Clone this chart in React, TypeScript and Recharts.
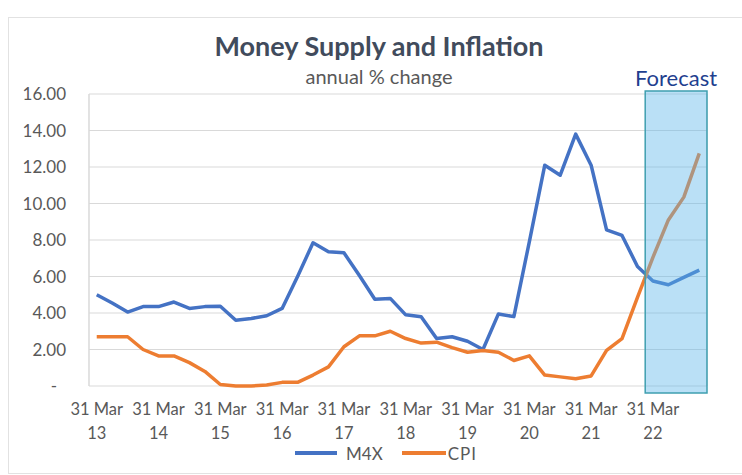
import { CartesianGrid, Line, LineChart, ReferenceArea, XAxis, YAxis } from "recharts";

// quarterly observations, Mar 2013 .. Dec 2022 (last four are forecasts)
const quarters = [
  "Mar 13", "Jun 13", "Sep 13", "Dec 13",
  "Mar 14", "Jun 14", "Sep 14", "Dec 14",
  "Mar 15", "Jun 15", "Sep 15", "Dec 15",
  "Mar 16", "Jun 16", "Sep 16", "Dec 16",
  "Mar 17", "Jun 17", "Sep 17", "Dec 17",
  "Mar 18", "Jun 18", "Sep 18", "Dec 18",
  "Mar 19", "Jun 19", "Sep 19", "Dec 19",
  "Mar 20", "Jun 20", "Sep 20", "Dec 20",
  "Mar 21", "Jun 21", "Sep 21", "Dec 21",
  "Mar 22", "Jun 22", "Sep 22", "Dec 22",
];

const m4x = [
  5.0, 4.55, 4.05, 4.35, 4.35, 4.6, 4.25, 4.35,
  4.37, 3.6, 3.7, 3.85, 4.25, 6.0, 7.85, 7.35,
  7.3, 6.05, 4.75, 4.8, 3.9, 3.8, 2.6, 2.7,
  2.45, 2.0, 3.95, 3.8, 7.9, 12.1, 11.55, 13.8,
  12.1, 8.55, 8.25, 6.55, 5.75, 5.55, 5.95, 6.35,
];

const cpi = [
  2.7, 2.7, 2.7, 2.0, 1.65, 1.65, 1.28, 0.8,
  0.08, 0.0, 0.0, 0.05, 0.2, 0.2, 0.6, 1.05,
  2.15, 2.75, 2.75, 3.0, 2.6, 2.35, 2.4, 2.1,
  1.85, 1.95, 1.85, 1.4, 1.65, 0.6, 0.5, 0.4,
  0.55, 1.95, 2.6, 4.85, 7.05, 9.1, 10.35, 12.75,
];

const yTicks = [0, 2, 4, 6, 8, 10, 12, 14, 16];
const yearLabels = ["13", "14", "15", "16", "17", "18", "19", "20", "21", "22"];
const forecastFrom = "Mar 22";

const data = quarters.map((q, i) => ({ q, pos: i + 0.5, m4x: m4x[i], cpi: cpi[i] }));
// grid lines sit on year boundaries, labels sit on the March quarter itself
const gridTicks = [...yearLabels.map((_, i) => i * 4), quarters.length];
const labelTicks = yearLabels.map((_, i) => i * 4 + 0.5);
const fStart = quarters.indexOf(forecastFrom);

const FONT = "Lato, 'Open Sans', sans-serif";
const GREY = "#595959";

function YTick({ x, y, payload }: any) {
  const zero = payload.value === 0;
  return (
    <text x={zero ? x - 9 : x} y={y} dy={6} textAnchor="end" fill={GREY} fontSize={17} fontFamily={FONT}>
      {zero ? "-" : payload.value.toFixed(2)}
    </text>
  );
}

function XTick({ x, y, payload }: any) {
  const yr = yearLabels[Math.floor(payload.value / 4)];
  return (
    <text x={x} y={y} textAnchor="middle" fill={GREY} fontSize={16.5} fontFamily={FONT}>
      <tspan x={x} dy={28.5}>31 Mar</tspan>
      <tspan x={x} dy={24.5}>{yr}</tspan>
    </text>
  );
}

export default function App() {
  return (
    <div style={{ position: "absolute", left: 0, top: 0, width: 742, height: 475, background: "#fff", fontFamily: FONT }}>
      <div style={{ position: "absolute", left: 8, top: 17, width: 740, height: 455, border: "1px solid #e2e2e2" }} />
      <div style={{ position: "absolute", left: 0, width: 758, top: 29, textAlign: "center", fontSize: 27, lineHeight: "34px", fontWeight: 700, color: "#414b5c" }}>
        Money Supply and Inflation
      </div>
      <div style={{ position: "absolute", left: 0, width: 758, top: 63, textAlign: "center", fontSize: 20, lineHeight: "26px", color: GREY }}>
        annual % change
      </div>
      <div style={{ position: "absolute", left: 0, top: 0 }}>
        <LineChart width={742} height={475} data={data} margin={{ top: 94, right: 35, bottom: 29, left: 29 }}>
          <CartesianGrid stroke="#d9d9d9" strokeWidth={1} />
          <XAxis
            type="number"
            dataKey="pos"
            domain={[0, quarters.length]}
            ticks={gridTicks}
            interval={0}
            tick={false}
            tickLine={false}
            height={0}
            axisLine={{ stroke: "#d9d9d9" }}
          />
          <XAxis
            xAxisId="labels"
            type="number"
            dataKey="pos"
            domain={[0, quarters.length]}
            ticks={labelTicks}
            interval={0}
            tick={<XTick />}
            tickLine={false}
            tickSize={0}
            tickMargin={0}
            height={60}
            axisLine={false}
          />
          <YAxis
            domain={[0, 16]}
            ticks={yTicks}
            interval={0}
            tick={<YTick />}
            tickLine={false}
            tickSize={0}
            tickMargin={23}
            width={60}
            axisLine={{ stroke: "#d9d9d9" }}
          />
          <Line dataKey="m4x" name="M4X" stroke="#4472c4" strokeWidth={3.5} dot={false} isAnimationActive={false} strokeLinejoin="round" />
          <Line dataKey="cpi" name="CPI" stroke="#ed7d31" strokeWidth={3.5} dot={false} isAnimationActive={false} strokeLinejoin="round" />
          <ReferenceArea
            x1={fStart}
            x2={quarters.length}
            y1={-0.38}
            y2={16.16}
            ifOverflow="visible"
            zIndex={1000}
            fill="#5ab4ea"
            fillOpacity={0.42}
            stroke="#3f9fb0"
            strokeWidth={1.5}
            label={{ value: "Forecast", position: "top", offset: 5, fill: "#1f3f8f", fontSize: 22, fontFamily: FONT }}
          />
        </LineChart>
      </div>
      <div style={{ position: "absolute", top: 442, left: 295, height: 22, display: "flex", alignItems: "center", fontSize: 17, color: GREY }}>
        <span style={{ display: "inline-block", width: 42, height: 4, background: "#4472c4", marginRight: 9 }} />
        <span style={{ marginRight: 19 }}>M4X</span>
        <span style={{ display: "inline-block", width: 44, height: 4, background: "#ed7d31", marginRight: 2 }} />
        <span style={{ letterSpacing: 1 }}>CPI</span>
      </div>
    </div>
  );
}
